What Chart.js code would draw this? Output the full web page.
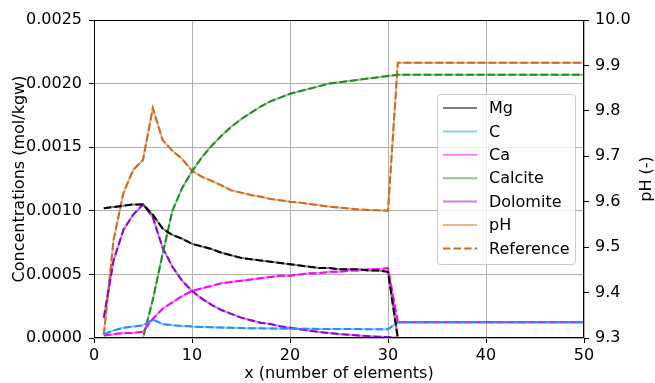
<!DOCTYPE html>
<html>
<head>
<meta charset="utf-8">
<script src="https://cdn.jsdelivr.net/npm/chart.js@4/dist/chart.umd.min.js"></script>
<style>
  html, body { margin: 0; padding: 0; background: #fff; }
  #wrap { width: 655px; height: 383px; }
</style>
</head>
<body>
<div id="wrap"><canvas id="grafico" width="655" height="383"></canvas></div>
<script>
// valores (x = número do elemento)
const xs = [1,2,3,4,5,6,7,8,9,10,11,12,13,14,15,16,17,18,19,20,21,22,23,24,25,26,27,28,29,30,31,32,33,34,35,36,37,38,39,40,41,42,43,44,45,46,47,48,49,50];

const mg = [0.00102,0.00103,0.00104,0.00105,0.00105,0.00097,0.00086,0.00081,0.00078,0.00074,0.00072,0.00070,0.00067,0.00065,0.00063,0.00062,0.00061,0.00060,0.00059,0.00058,0.00057,0.00056,0.00055,0.00055,0.00054,0.00054,0.00054,0.00053,0.00053,0.00052,
  0,0,0,0,0,0,0,0,0,0,0,0,0,0,0,0,0,0,0,0];

const c = [0.00003,0.00006,0.00008,0.00009,0.00010,0.000145,0.00011,0.00010,0.000095,0.00009,0.000087,0.000084,0.000082,0.00008,0.000078,0.000077,0.000076,0.000075,0.000074,0.000073,0.000072,0.000072,0.000071,0.000071,0.00007,0.00007,0.00007,0.000069,0.000069,0.000068,
  0.000123,0.000123,0.000123,0.000123,0.000123,0.000123,0.000123,0.000123,0.000123,0.000123,0.000123,0.000123,0.000123,0.000123,0.000123,0.000123,0.000123,0.000123,0.000123,0.000123];

const ca = [0.00002,0.00003,0.00004,0.00004,0.00005,0.00015,0.00023,0.00028,0.00033,0.00037,0.00039,0.00041,0.00043,0.00044,0.00045,0.00046,0.00047,0.00048,0.00049,0.00049,0.00050,0.00051,0.00051,0.00052,0.00052,0.00053,0.00053,0.00054,0.00054,0.00055,
  0.000123,0.000123,0.000123,0.000123,0.000123,0.000123,0.000123,0.000123,0.000123,0.000123,0.000123,0.000123,0.000123,0.000123,0.000123,0.000123,0.000123,0.000123,0.000123,0.000123];

const calcite = [0,0,0,0,0,0.00030,0.00066,0.00100,0.00118,0.00131,0.00142,0.00151,0.00159,0.00166,0.00172,0.00177,0.00182,0.00186,0.00189,0.00192,0.00194,0.00196,0.00198,0.00200,0.00201,0.00202,0.00203,0.00204,0.00205,0.00206,
  0.00207,0.00207,0.00207,0.00207,0.00207,0.00207,0.00207,0.00207,0.00207,0.00207,0.00207,0.00207,0.00207,0.00207,0.00207,0.00207,0.00207,0.00207,0.00207,0.00207];

const dolomite = [0.00016,0.00061,0.00085,0.00097,0.00105,0.00095,0.00071,0.00056,0.00045,0.00037,0.00031,0.00026,0.00022,0.00019,0.00016,0.00014,0.00012,0.00011,0.000092,0.00008,0.000068,0.000057,0.000047,0.000039,0.000031,0.000025,0.000019,0.000014,0.00001,0.000007,
  0,0,0,0,0,0,0,0,0,0,0,0,0,0,0,0,0,0,0,0];

const ph = [9.307,9.516,9.619,9.670,9.692,9.806,9.736,9.712,9.694,9.668,9.655,9.646,9.636,9.625,9.620,9.615,9.611,9.606,9.603,9.600,9.598,9.595,9.592,9.589,9.587,9.585,9.583,9.582,9.581,9.580,
  9.906,9.906,9.906,9.906,9.906,9.906,9.906,9.906,9.906,9.906,9.906,9.906,9.906,9.906,9.906,9.906,9.906,9.906,9.906,9.906];

const xTicks = [0, 10, 20, 30, 40, 50];
const concTicks = [0, 0.0005, 0.001, 0.0015, 0.002, 0.0025];
const phTicks = [9.3, 9.4, 9.5, 9.6, 9.7, 9.8, 9.9, 10.0];

const FONTE = "'DejaVu Sans', sans-serif";
const TAM = 16;
const series = [
  { nome: 'Mg', dados: mg, cor: '#000000', suave: 'rgba(0,0,0,0.5)', eixo: 'y' },
  { nome: 'C', dados: c, cor: '#1e90ff', suave: 'rgba(30,144,255,0.5)', eixo: 'y' },
  { nome: 'Ca', dados: ca, cor: '#ff00ff', suave: 'rgba(255,0,255,0.5)', eixo: 'y' },
  { nome: 'Calcite', dados: calcite, cor: '#228b22', suave: 'rgba(34,139,34,0.5)', eixo: 'y' },
  { nome: 'Dolomite', dados: dolomite, cor: '#9400d3', suave: 'rgba(148,0,211,0.5)', eixo: 'y' },
  { nome: 'pH', dados: ph, cor: '#d2691e', suave: 'rgba(210,105,30,0.5)', eixo: 'y2' }
];

const pontos = arr => arr.map((v, i) => ({ x: xs[i], y: v }));

const datasets = [];
series.forEach(s => {
  datasets.push({
    label: s.nome, data: pontos(s.dados), yAxisID: s.eixo,
    borderColor: s.suave, borderWidth: 2, pointRadius: 0, tension: 0, order: 2, noLegenda: false
  });
});
series.forEach((s, i) => {
  datasets.push({
    label: i === series.length - 1 ? 'Reference' : '', data: pontos(s.dados), yAxisID: s.eixo,
    borderColor: s.cor, borderWidth: 2, borderDash: [7.4, 3.2], pointRadius: 0, tension: 0, order: 1,
    noLegenda: i !== series.length - 1
  });
});

// moldura (spines) e título do eixo direito
const moldura = {
  id: 'moldura',
  afterDatasetsDraw(chart) {
    const { ctx, chartArea: a } = chart;
    ctx.save();
    ctx.strokeStyle = '#000';
    ctx.lineWidth = 1;
    ctx.strokeRect(a.left + 0.5, a.top + 0.5, a.right - a.left - 1, a.bottom - a.top - 1);
    ctx.translate(647, (a.top + a.bottom) / 2);
    ctx.rotate(-Math.PI / 2);
    ctx.fillStyle = '#000';
    ctx.font = TAM + 'px ' + FONTE;
    ctx.textAlign = 'center';
    ctx.textBaseline = 'middle';
    ctx.fillText('pH (-)', 0, 0);
    ctx.restore();
  }
};

// legenda desenhada dentro da área do gráfico
const legenda = {
  id: 'legenda',
  afterDraw(chart) {
    const { ctx } = chart;
    const itens = chart.data.datasets.filter(d => !d.noLegenda);
    const bx = 437, by = 94, bw = 138, bh = 170, passo = 23.4;
    ctx.save();
    ctx.beginPath();
    ctx.roundRect(bx + 0.5, by + 0.5, bw, bh, 3);
    ctx.fillStyle = 'rgba(255,255,255,0.8)';
    ctx.fill();
    ctx.strokeStyle = '#cccccc';
    ctx.lineWidth = 1;
    ctx.stroke();
    ctx.font = TAM + 'px ' + FONTE;
    ctx.textBaseline = 'middle';
    itens.forEach((d, i) => {
      const y = by + 14 + i * passo;
      ctx.beginPath();
      ctx.setLineDash(d.borderDash || []);
      ctx.strokeStyle = d.borderColor;
      ctx.lineWidth = 2;
      ctx.moveTo(443, y);
      ctx.lineTo(477, y);
      ctx.stroke();
      ctx.setLineDash([]);
      ctx.fillStyle = '#000';
      ctx.fillText(d.label, 489, y + 1);
    });
    ctx.restore();
  }
};

new Chart(document.getElementById('grafico').getContext('2d'), {
  type: 'line',
  data: { datasets },
  plugins: [moldura, legenda],
  options: {
    responsive: false,
    animation: false,
    layout: { padding: { top: 20, right: 0, left: 0, bottom: 0 } },
    plugins: { legend: { display: false }, tooltip: { enabled: false } },
    scales: {
      x: {
        type: 'linear', min: 0, max: 50,
        afterBuildTicks: s => { s.ticks = xTicks.map(v => ({ value: v })); },
        afterFit: s => { s.height = 45; },
        ticks: { color: '#000', font: { family: FONTE, size: TAM }, padding: 3, maxRotation: 0, callback: v => String(v) },
        grid: { color: '#b0b0b0', tickColor: '#000', tickLength: 5, lineWidth: 1 },
        border: { display: false },
        title: { display: true, text: 'x (number of elements)', color: '#000', font: { family: FONTE, size: TAM }, padding: { top: -2, bottom: 0 } }
      },
      y: {
        position: 'left', min: 0, max: 0.0025,
        afterBuildTicks: s => { s.ticks = concTicks.map(v => ({ value: v })); },
        afterFit: s => { s.width = 94; },
        ticks: { color: '#000', font: { family: FONTE, size: TAM }, padding: 7, callback: v => v.toFixed(4) },
        grid: { color: '#b0b0b0', tickColor: '#000', tickLength: 5, lineWidth: 1 },
        border: { display: false },
        title: { display: true, text: 'Concentrations (mol/kgw)', color: '#000', font: { family: FONTE, size: TAM }, padding: { top: 10, bottom: 0 } }
      },
      y2: {
        position: 'right', min: 9.3, max: 10.0,
        afterBuildTicks: s => { s.ticks = phTicks.map(v => ({ value: v })); },
        afterFit: s => { s.width = 71; },
        ticks: { color: '#000', font: { family: FONTE, size: TAM }, padding: 6, callback: v => v.toFixed(1) },
        grid: { drawOnChartArea: false, color: '#000', tickColor: '#000', tickLength: 5 },
        border: { display: false }
      }
    }
  }
});
</script>
</body>
</html>
